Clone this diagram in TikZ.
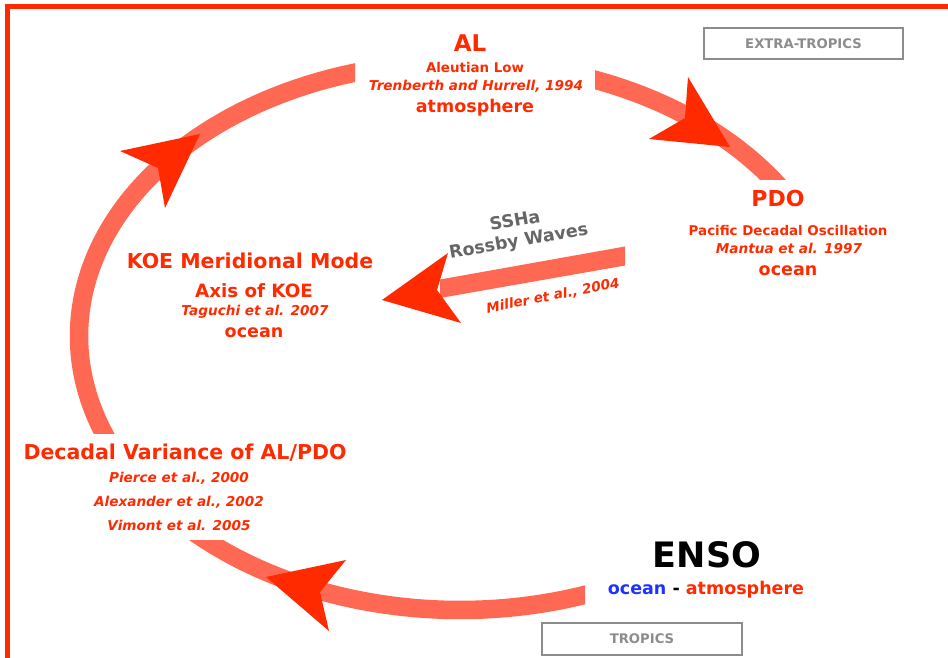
\documentclass[tikz,border=0pt]{standalone}
\usepackage{fontspec}
\setmainfont{DejaVu Sans}[ItalicFont={DejaVu Sans Oblique},BoldFont={DejaVu Sans Bold},BoldItalicFont={DejaVu Sans Bold Oblique}]
\definecolor{arcred}{HTML}{FF6852}
\definecolor{headred}{HTML}{FF2A00}
\definecolor{txtred}{HTML}{FF2A00}
\definecolor{oceanblue}{HTML}{1E32FF}
\definecolor{boxgray}{HTML}{8C8C8C}
\definecolor{wavegray}{HTML}{666666}
\tikzset{
  loopband/.style={draw=arcred, line width=18.5pt},
  headshape/.style={fill=headred},
  shaftshape/.style={fill=arcred},
  basetext/.style={anchor=base, inner sep=0pt},
  titletext/.style={basetext, text=txtred, font=\bfseries\fontsize{20.5}{24}\selectfont},
  subtext/.style={basetext, text=txtred, font=\bfseries\fontsize{13.4}{16}\selectfont},
  citetext/.style={basetext, text=txtred, font=\bfseries\itshape\fontsize{13.6}{16}\selectfont},
  kindtext/.style={basetext, text=txtred, font=\bfseries\fontsize{17.5}{20}\selectfont},
  wavetext/.style={inner sep=0pt, align=center, text=wavegray, font=\bfseries\fontsize{17.5}{20.5}\selectfont, rotate=10},
  regionbox/.style={draw=boxgray, line width=2.2pt, text=boxgray, font=\bfseries\fontsize{13.2}{16}\selectfont, inner sep=0pt}
}
\begin{document}
\begin{tikzpicture}[x=1pt,y=-1pt]
\useasboundingbox (0,0) rectangle (948,658);
% frame
\draw[headred, line width=4.5pt] (970,6.5) -- (7.5,6.5) -- (7.5,680);
% loop segments
\begin{scope}
  \clip (0,0) rectangle (355,433);
  \draw[loopband] plot[domain=150:262, samples=90, smooth] ({460+381*cos(\x)},{336+274*sin(\x)});
\end{scope}
\begin{scope}
  \clip (595,0) rectangle (948,180);
  \draw[loopband] plot[domain=282:332, samples=60, smooth] ({460+381*cos(\x)},{336+274*sin(\x)});
\end{scope}
\begin{scope}
  \clip (0,540) rectangle (585,658);
  \draw[loopband] plot[domain=62:142, samples=80, smooth] ({460+381*cos(\x)},{336+274*sin(\x)});
\end{scope}
% straight shaft
\fill[shaftshape] (625,246.5) -- (625,265.5) -- (440,298) -- (440,279.5) -- cycle;
% arrow heads
\fill[headshape] (200,134) -- (120,151) -- (158,168) -- (165,208) -- cycle;
\fill[headshape] (730,147) -- (688,77) -- (685,118) -- (649,139) -- cycle;
\fill[headshape] (266,577) -- (346,560) -- (320,592) -- (329,631) -- cycle;
\fill[headshape] (382,300) -- (448,253) -- (437,290) -- (461,323) -- cycle;
% AL
\node[titletext, font=\bfseries\fontsize{23}{26}\selectfont] (al) at (470,52) {AL};
\node[subtext] (alname) at (475,73) {Aleutian Low};
\node[citetext] (alref) at (476,91) {Trenberth and Hurrell, 1994};
\node[kindtext] (alkind) at (475,113) {atmosphere};
% PDO
\node[titletext, font=\bfseries\fontsize{22}{26}\selectfont] (pdo) at (778,207) {PDO};
\node[subtext] (pdoname) at (788,235) {Pacific Decadal Oscillation};
\node[citetext] (pdoref) at (789,253) {Mantua et al. 1997};
\node[kindtext] (pdokind) at (788,275) {ocean};
% KOE
\node[titletext] (koe) at (250,268) {KOE Meridional Mode};
\node[titletext, font=\bfseries\fontsize{18.3}{22}\selectfont] (koeaxis) at (254,297) {Axis of KOE};
\node[citetext] (koeref) at (255,315) {Taguchi et al. 2007};
\node[kindtext] (koekind) at (254,337) {ocean};
% waves
\node[wavetext] (waves) at (517,232) {SSHa\\Rossby Waves};
\node[citetext, anchor=center, rotate=11] (miller) at (553,296) {Miller et al., 2004};
% Decadal
\node[titletext] (dec) at (185,459) {Decadal Variance of AL/PDO};
\node[citetext] (pierce) at (179,482) {Pierce et al., 2000};
\node[citetext] (alex) at (179,506) {Alexander et al., 2002};
\node[citetext] (vimont) at (179,530) {Vimont et al. 2005};
% ENSO
\node[basetext, font=\bfseries\fontsize{35}{40}\selectfont] (enso) at (707,567) {ENSO};
\node[basetext, font=\bfseries\fontsize{17.5}{20}\selectfont] (ensokind) at (706,594) {\textcolor{oceanblue}{ocean} - \textcolor{txtred}{atmosphere}};
% region boxes
\node[regionbox, minimum width=199pt, minimum height=31pt] (extra) at (803.5,43.5) {EXTRA-TROPICS};
\node[regionbox, minimum width=200pt, minimum height=32pt] (tropics) at (642,639) {TROPICS};
\end{tikzpicture}
\end{document}
